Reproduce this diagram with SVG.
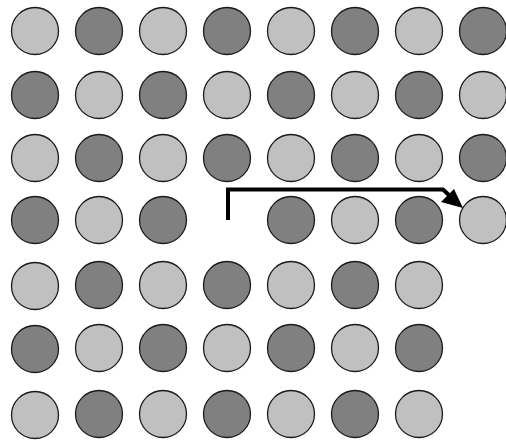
<svg xmlns="http://www.w3.org/2000/svg" width="506" height="442" viewBox="0 0 506 442">
<style>
.l{fill:#c0c0c0;stroke:#1a1a1a;stroke-width:1.3}
.d{fill:#808080;stroke:#1a1a1a;stroke-width:1.3}
</style>
<rect width="506" height="442" fill="#fff"/>
<g id="nodes">
<g id="r0">
<circle class="l" cx="35" cy="31" r="23.5"/><circle class="d" cx="99" cy="31" r="23.5"/><circle class="l" cx="163" cy="31" r="23.5"/><circle class="d" cx="227" cy="31" r="23.5"/><circle class="l" cx="291" cy="31" r="23.5"/><circle class="d" cx="355" cy="31" r="23.5"/><circle class="l" cx="419" cy="31" r="23.5"/><circle class="d" cx="483" cy="31" r="23.5"/>
</g>
<g id="r1">
<circle class="d" cx="35" cy="95" r="23.5"/><circle class="l" cx="99" cy="95" r="23.5"/><circle class="d" cx="163" cy="95" r="23.5"/><circle class="l" cx="227" cy="95" r="23.5"/><circle class="d" cx="291" cy="95" r="23.5"/><circle class="l" cx="355" cy="95" r="23.5"/><circle class="d" cx="419" cy="95" r="23.5"/><circle class="l" cx="483" cy="95" r="23.5"/>
</g>
<g id="r2">
<circle class="l" cx="35" cy="158" r="23.5"/><circle class="d" cx="99" cy="158" r="23.5"/><circle class="l" cx="163" cy="158" r="23.5"/><circle class="d" cx="227" cy="158" r="23.5"/><circle class="l" cx="291" cy="158" r="23.5"/><circle class="d" cx="355" cy="158" r="23.5"/><circle class="l" cx="419" cy="158" r="23.5"/><circle class="d" cx="483" cy="158" r="23.5"/>
</g>
<g id="r3">
<circle class="d" cx="35" cy="220" r="23.5"/><circle class="l" cx="99" cy="220" r="23.5"/><circle class="d" cx="163" cy="220" r="23.5"/><circle class="d" cx="291" cy="220" r="23.5"/><circle class="l" cx="355" cy="220" r="23.5"/><circle class="d" cx="419" cy="220" r="23.5"/><circle class="l" cx="483" cy="220" r="23.5"/>
</g>
<g id="r4">
<circle class="l" cx="35" cy="286" r="23.5"/><circle class="d" cx="99" cy="285" r="23.5"/><circle class="l" cx="163" cy="285" r="23.5"/><circle class="d" cx="227" cy="285" r="23.5"/><circle class="l" cx="291" cy="285" r="23.5"/><circle class="d" cx="355" cy="285" r="23.5"/><circle class="l" cx="419" cy="285" r="23.5"/>
</g>
<g id="r5">
<circle class="d" cx="35" cy="349" r="23.5"/><circle class="l" cx="99" cy="348" r="23.5"/><circle class="d" cx="163" cy="348" r="23.5"/><circle class="l" cx="227" cy="348" r="23.5"/><circle class="d" cx="291" cy="348" r="23.5"/><circle class="l" cx="355" cy="348" r="23.5"/><circle class="d" cx="419" cy="348" r="23.5"/>
</g>
<g id="r6">
<circle class="l" cx="35" cy="415" r="23.5"/><circle class="d" cx="99" cy="414" r="23.5"/><circle class="l" cx="163" cy="414" r="23.5"/><circle class="d" cx="227" cy="414" r="23.5"/><circle class="l" cx="291" cy="414" r="23.5"/><circle class="d" cx="355" cy="414" r="23.5"/><circle class="l" cx="419" cy="414" r="23.5"/>
</g>
</g>
<g id="connectors">
<path d="M228,220 V189.5 H443 L451,197" fill="none" stroke="#000" stroke-width="4" stroke-linejoin="miter"/>
<polygon points="463,208 454,189 441,202" fill="#000"/>
</g>
</svg>
